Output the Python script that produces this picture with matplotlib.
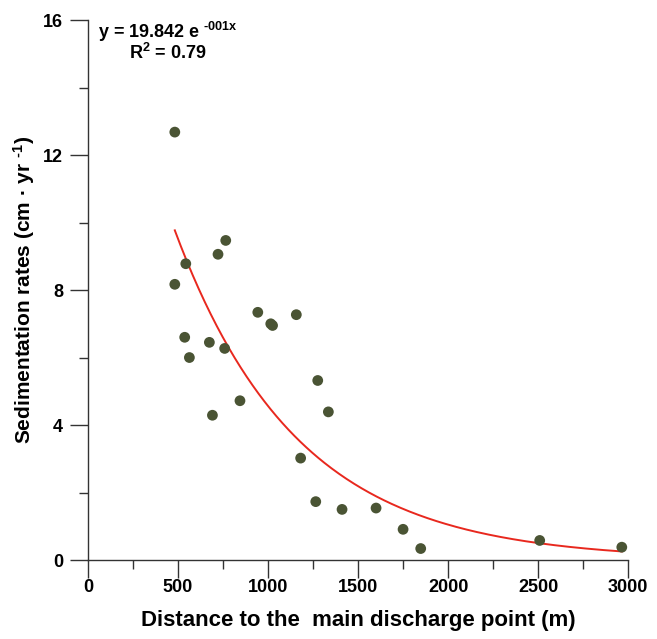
import numpy as np
import matplotlib
matplotlib.use("Agg")
import matplotlib.pyplot as plt
from matplotlib.ticker import MultipleLocator

plt.rcParams['font.family'] = ['Liberation Sans', 'DejaVu Sans']
plt.rcParams['mathtext.fontset'] = 'custom'
plt.rcParams['mathtext.rm'] = 'Liberation Sans'
plt.rcParams['mathtext.bf'] = 'Liberation Sans:bold'
plt.rcParams['mathtext.default'] = 'bf'

# 距离 (m) 与沉积速率 (cm/yr)
distance = [482, 765, 722, 543, 482, 943, 1015, 1025, 1157, 537, 674, 759, 563,
            1276, 844, 691, 1335, 1181, 1265, 1411, 1600, 1750, 1848, 2509, 2965]
rate = [12.68, 9.47, 9.06, 8.78, 8.17, 7.34, 7.00, 6.95, 7.27, 6.60, 6.45, 6.27, 6.00,
        5.32, 4.72, 4.29, 4.39, 3.02, 1.73, 1.50, 1.54, 0.91, 0.34, 0.58, 0.38]

# 拟合曲线参数 y = a * exp(-k x)
fit_a = 19.842
fit_k = 0.00147

x = np.array(distance, dtype=float)
y = np.array(rate)

fig = plt.figure(figsize=(6.57, 6.39), dpi=100)
ax = fig.add_axes([0.134, 0.1236, 0.822, 0.845])

xx = np.linspace(x.min(), x.max(), 300)
ax.plot(xx, fit_a * np.exp(-fit_k * xx), color='#e8281e', lw=1.4, zorder=2)
ax.scatter(x, y, s=60, color='#4a5434', edgecolors='none', zorder=3)

ax.set_xlim(0, 3000)
ax.set_ylim(0, 16)
ax.xaxis.set_major_locator(MultipleLocator(500))
ax.xaxis.set_minor_locator(MultipleLocator(250))
ax.yaxis.set_major_locator(MultipleLocator(4))
ax.yaxis.set_minor_locator(MultipleLocator(2))

for s in ['top', 'right']:
    ax.spines[s].set_visible(False)
for s in ['left', 'bottom']:
    ax.spines[s].set_color('#333333')
    ax.spines[s].set_linewidth(1.0)

ax.tick_params(which='major', direction='out', length=13, width=1.0, color='#333333',
               labelsize=13)
ax.tick_params(axis='x', which='major', pad=1)
ax.tick_params(axis='y', which='major', pad=5)
ax.tick_params(which='minor', direction='out', length=6.5, width=1.0, color='#333333')
for lab in ax.get_xticklabels() + ax.get_yticklabels():
    lab.set_fontweight('bold')

ax.set_xlabel('Distance to the  main discharge point (m)', fontsize=16,
              fontweight='bold', labelpad=10)
ax.set_ylabel('Sedimentation rates (cm \u00b7 yr $^{\u2010 1}$)', fontsize=15,
              fontweight='bold', labelpad=4)

ax.text(0.018, 1.0, 'y = 19.842 e $^{\u2010001x}$', transform=ax.transAxes,
        fontsize=13, fontweight='bold', va='top', ha='left')
ax.text(0.076, 0.958, r'R$^{2}$ = 0.79', transform=ax.transAxes,
        fontsize=13, fontweight='bold', va='top', ha='left')

fig.savefig('out.png', dpi=100)
